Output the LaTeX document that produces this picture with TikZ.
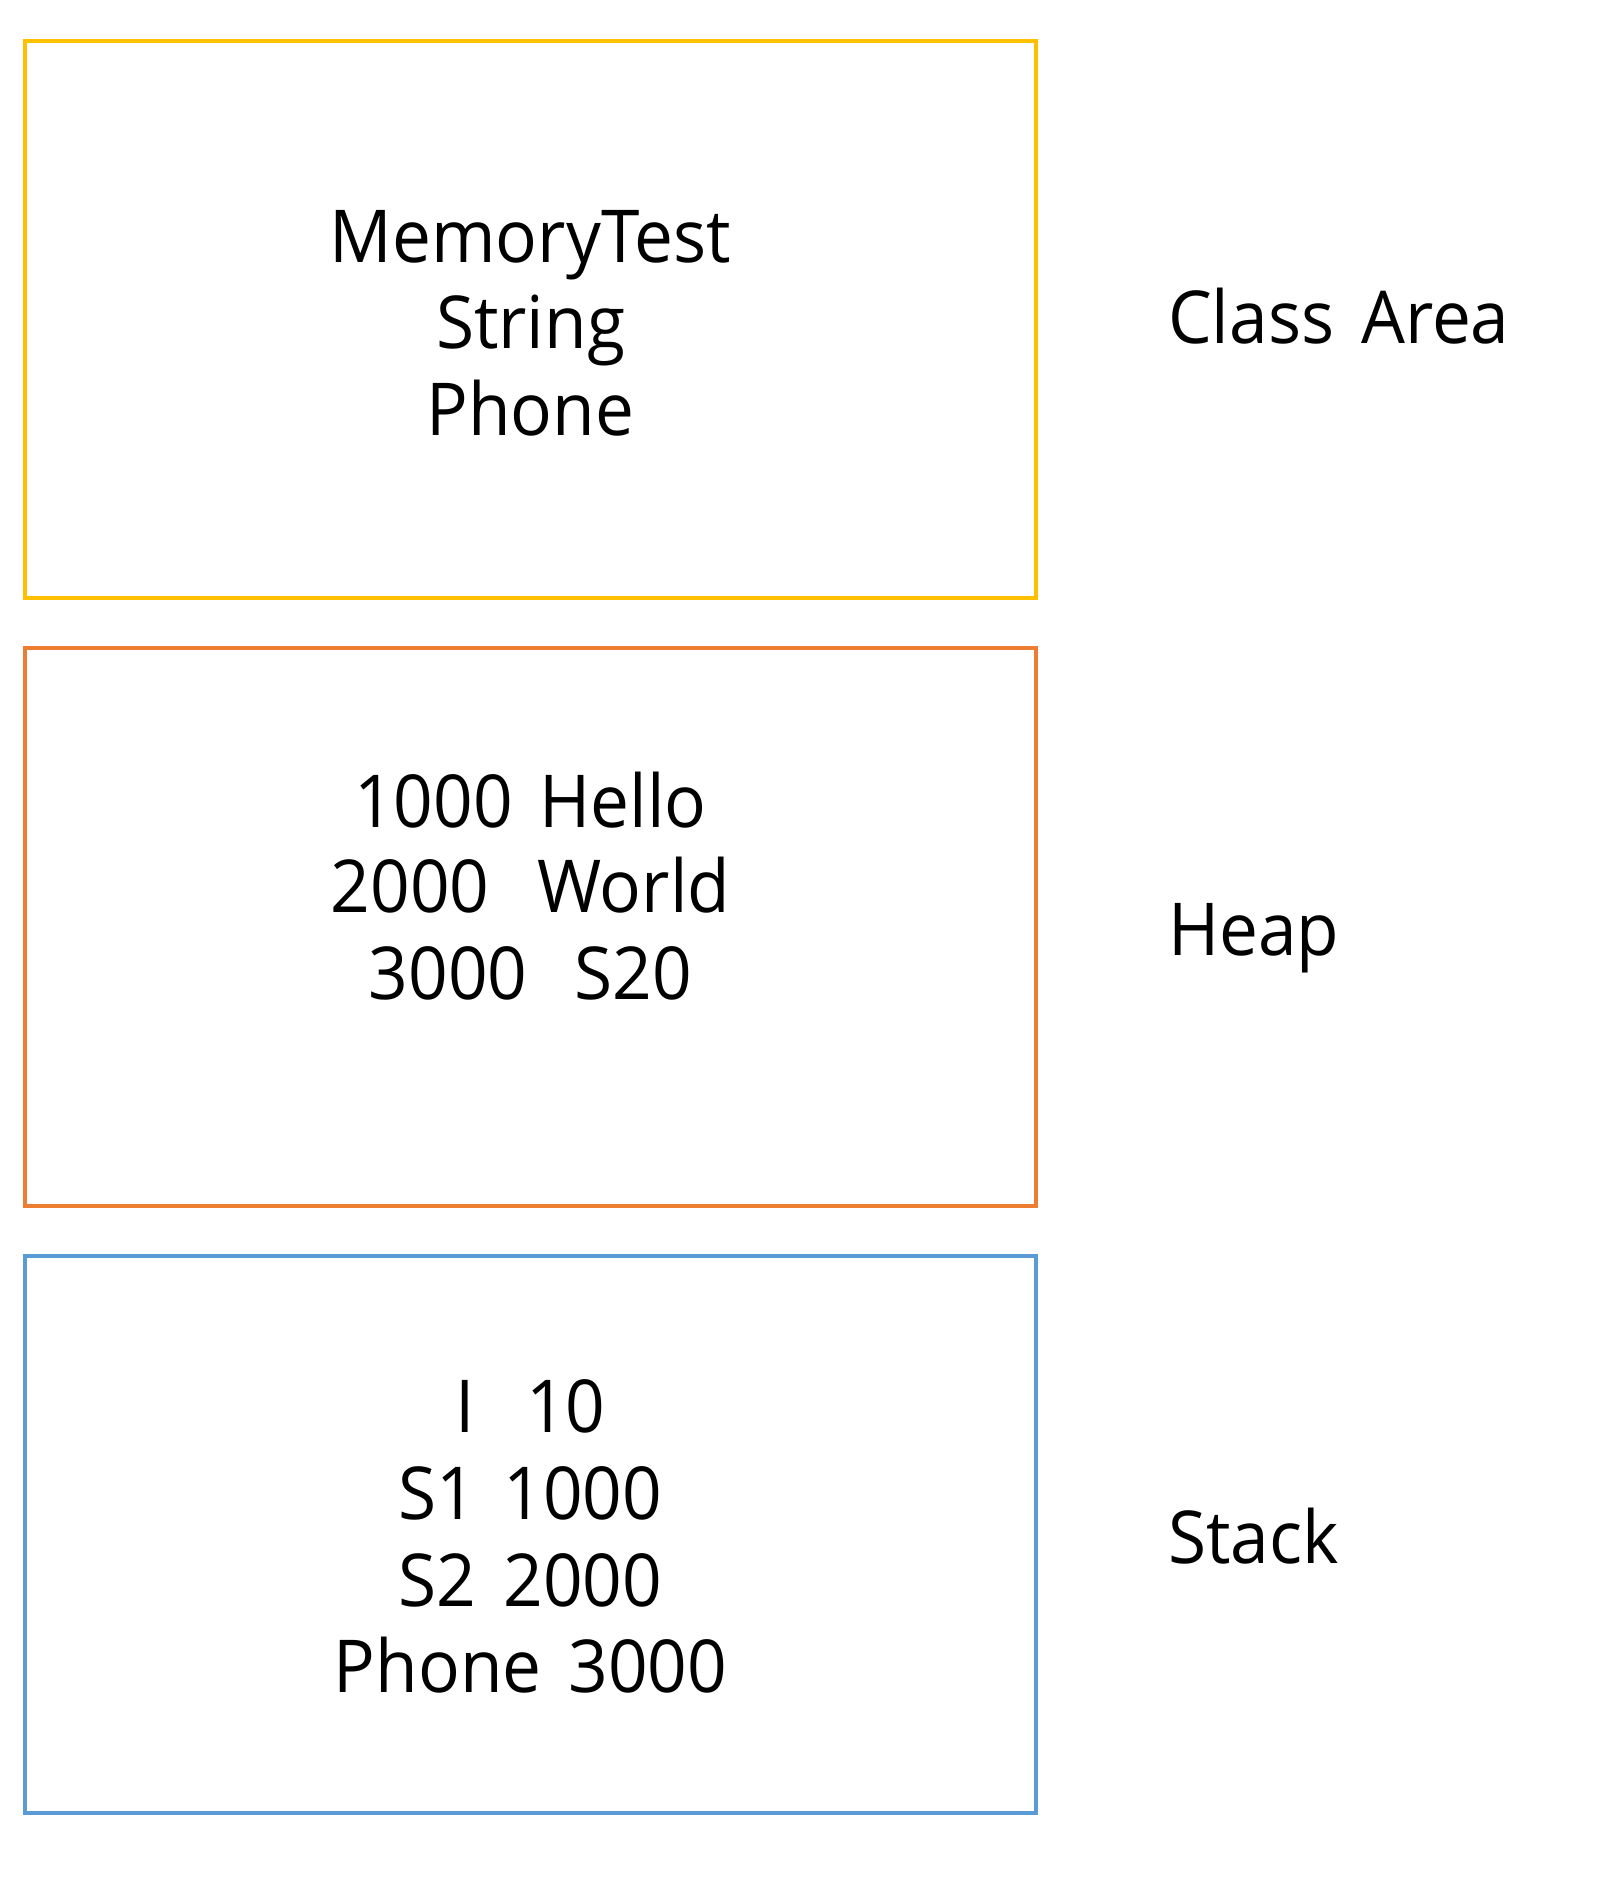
\documentclass[tikz,border=0pt]{standalone}
\usepackage{fontspec}
\setmainfont{Open Sans}[FakeStretch=0.95,WordSpace=1.5]
\definecolor{cyel}{HTML}{FFC000}
\definecolor{corg}{HTML}{ED7D31}
\definecolor{cblu}{HTML}{5B9BD5}
\begin{document}
\begin{tikzpicture}[x=1pt,y=-1pt,
  area/.style={line width=4pt},
  txt/.style={anchor=base,inner sep=0pt,font=\fontsize{73}{86}\selectfont},
  lbl/.style={anchor=base west,inner sep=0pt,font=\fontsize{73}{86}\selectfont}]
\useasboundingbox (0,0) rectangle (1602,1892);
\draw[area,cyel] (25,41) rectangle (1036,598);
\draw[area,corg] (25,648) rectangle (1036,1206);
\draw[area,cblu] (25,1256) rectangle (1036,1813);
\node[txt] (c1) at (530.5,262) {MemoryTest};
\node[txt] (c2) at (530.5,348) {String};
\node[txt] (c3) at (530.5,435) {Phone};
\node[txt] (h1) at (530.5,827) {1000 Hello};
\node[txt] (h2) at (530.5,912) {2000\hspace{0.65em}World};
\node[txt] (h3) at (530.5,999) {3000\hspace{0.65em}S20};
\node[txt] (s1) at (530.5,1432) {I\hspace{0.7em}10};
\node[txt] (s2) at (530.5,1519) {S1 1000};
\node[txt] (s3) at (530.5,1606) {S2 2000};
\node[txt] (s4) at (530.5,1692) {Phone 3000};
\node[lbl] (la) at (1168,343) {Class Area};
\node[lbl] (lb) at (1168,955) {Heap};
\node[lbl] (lc) at (1168,1563) {Stack};
\end{tikzpicture}
\end{document}
